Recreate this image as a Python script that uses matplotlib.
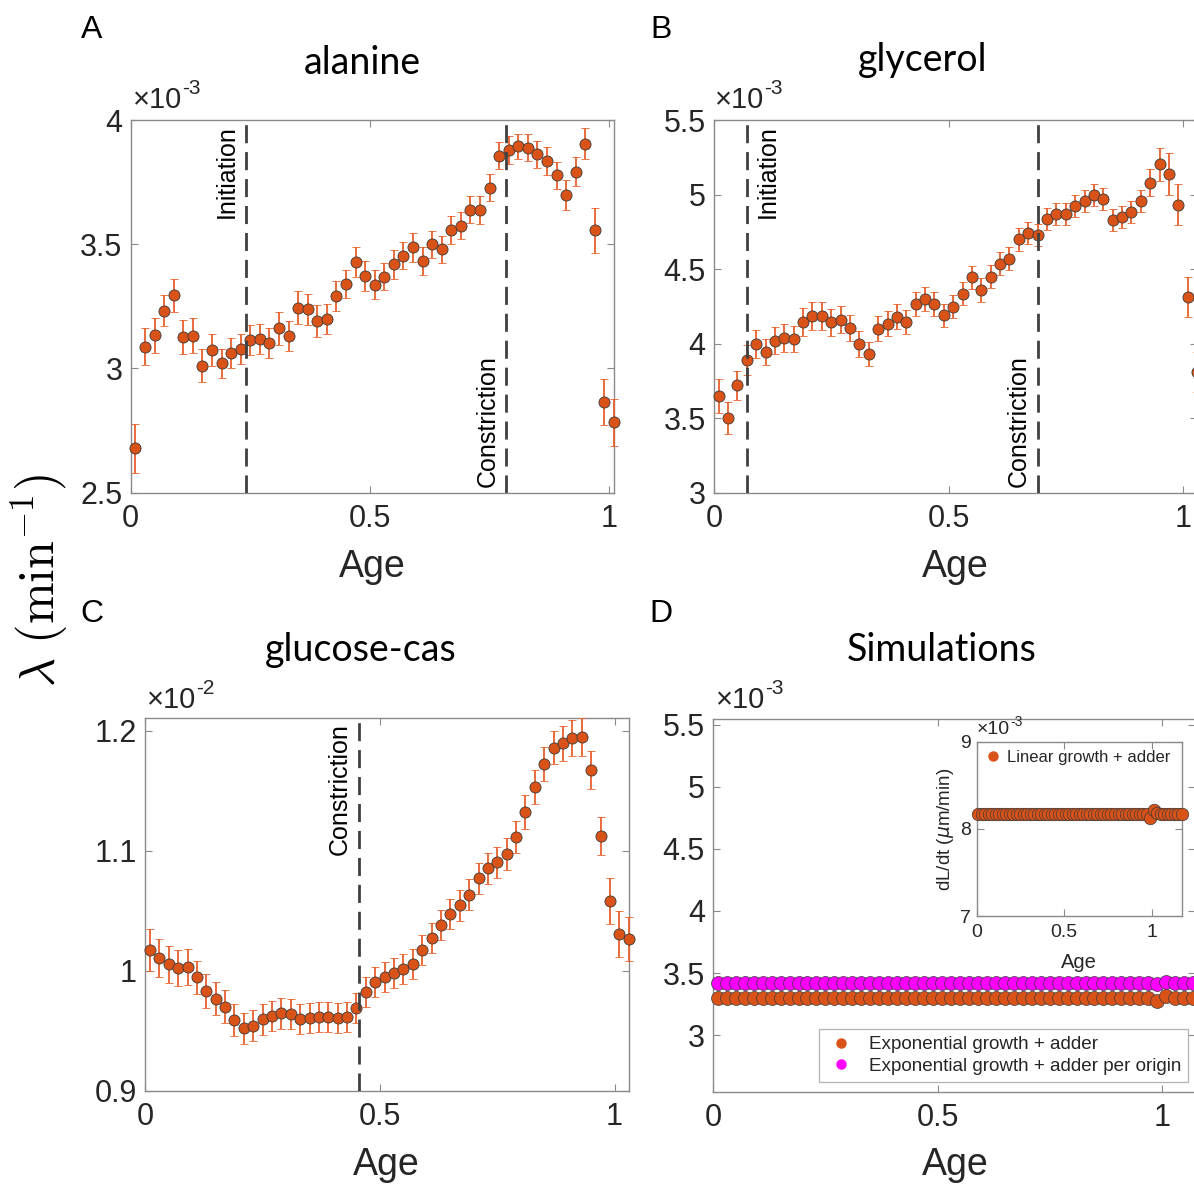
import numpy as np
import matplotlib
matplotlib.use("Agg")
import matplotlib.pyplot as plt
from matplotlib import transforms
from matplotlib.ticker import FuncFormatter, FixedLocator
from matplotlib.lines import Line2D

W, H = 1194, 1186
plt.rcParams['font.family'] = ['Liberation Sans', 'DejaVu Sans']

# ---------------- data ----------------
# growth rate per age bin, alanine (x 1e-3 min^-1)
alanine_age = np.round(np.arange(51) * 0.02 + 0.01, 3)
alanine_rate = [
    2.678, 3.088, 3.133, 3.232, 3.294, 3.127, 3.132, 3.011, 3.074, 3.020,
    3.062, 3.077, 3.114, 3.117, 3.101, 3.161, 3.132, 3.245, 3.238, 3.191,
    3.198, 3.293, 3.340, 3.427, 3.372, 3.337, 3.369, 3.419, 3.454, 3.487,
    3.432, 3.500, 3.479, 3.557, 3.575, 3.639, 3.638, 3.728, 3.856, 3.879,
    3.895, 3.889, 3.862, 3.835, 3.777, 3.698, 3.792, 3.905, 3.556, 2.865,
    2.783]
alanine_err = [
    0.100, 0.074, 0.072, 0.063, 0.067, 0.070, 0.070, 0.067, 0.063, 0.060,
    0.060, 0.060, 0.060, 0.060, 0.060, 0.065, 0.060, 0.065, 0.063, 0.063,
    0.060, 0.060, 0.055, 0.060, 0.060, 0.058, 0.055, 0.058, 0.055, 0.060,
    0.055, 0.055, 0.055, 0.055, 0.055, 0.055, 0.055, 0.055, 0.055, 0.055,
    0.050, 0.055, 0.055, 0.055, 0.055, 0.060, 0.058, 0.063, 0.090, 0.094,
    0.095]

# glycerol (x 1e-3 min^-1)
glycerol_age = np.round(np.arange(52) * 0.02 + 0.01, 3)
glycerol_rate = [
    3.647, 3.502, 3.721, 3.888, 4.000, 3.944, 4.020, 4.038, 4.031, 4.143,
    4.183, 4.183, 4.143, 4.161, 4.105, 3.998, 3.931, 4.100, 4.134, 4.181,
    4.143, 4.268, 4.301, 4.266, 4.190, 4.248, 4.335, 4.444, 4.359, 4.449,
    4.536, 4.569, 4.699, 4.741, 4.728, 4.835, 4.871, 4.871, 4.920, 4.958,
    4.998, 4.969, 4.830, 4.848, 4.886, 4.958, 5.080, 5.203, 5.138, 4.931,
    4.310, 3.808]
glycerol_err = [
    0.114, 0.105, 0.098, 0.100, 0.094, 0.090, 0.090, 0.094, 0.090, 0.094,
    0.094, 0.094, 0.090, 0.090, 0.085, 0.085, 0.083, 0.083, 0.083, 0.083,
    0.080, 0.080, 0.080, 0.080, 0.078, 0.078, 0.078, 0.076, 0.078, 0.076,
    0.076, 0.076, 0.076, 0.076, 0.076, 0.076, 0.074, 0.074, 0.074, 0.074,
    0.074, 0.074, 0.074, 0.074, 0.074, 0.074, 0.090, 0.110, 0.138, 0.138,
    0.134, 0.134]

# glucose-cas (x 1e-2 min^-1)
glucose_age = np.round(np.arange(52) * 0.02 + 0.01, 3)
glucose_rate = [
    1.0175, 1.0106, 1.0056, 1.0022, 1.0036, 0.9947, 0.9833, 0.9769, 0.9703, 0.9592,
    0.9522, 0.9544, 0.9597, 0.9625, 0.9647, 0.9642, 0.9600, 0.9606, 0.9614, 0.9614,
    0.9606, 0.9614, 0.9689, 0.9825, 0.9911, 0.9953, 0.9981, 1.0014, 1.0058, 1.0172,
    1.0278, 1.0383, 1.0475, 1.0547, 1.0636, 1.0772, 1.0856, 1.0906, 1.0975, 1.1114,
    1.1322, 1.1531, 1.1725, 1.1861, 1.1897, 1.1944, 1.1947, 1.1675, 1.1125, 1.0583,
    1.0306, 1.0267]
glucose_err = [
    0.0172, 0.0160, 0.0155, 0.0150, 0.0150, 0.0140, 0.0140, 0.0140, 0.0135, 0.0130,
    0.0128, 0.0128, 0.0128, 0.0128, 0.0128, 0.0125, 0.0125, 0.0125, 0.0125, 0.0125,
    0.0125, 0.0125, 0.0125, 0.0125, 0.0125, 0.0125, 0.0125, 0.0125, 0.0125, 0.0125,
    0.0125, 0.0125, 0.0128, 0.0130, 0.0130, 0.0130, 0.0130, 0.0130, 0.0130, 0.0135,
    0.0140, 0.0140, 0.0140, 0.0140, 0.0145, 0.0150, 0.0160, 0.0160, 0.0160, 0.0190,
    0.0190, 0.0180]

# cell-cycle events (age)
alanine_events = {'Initiation': 0.24, 'Constriction': 0.785}
glycerol_events = {'Initiation': 0.07, 'Constriction': 0.69}
glucose_events = {'Constriction': 0.455}

# simulations (x 1e-3)
sim_age = np.round(np.arange(54) * 0.02 + 0.01, 3)
sim_exp_adder = [3.299] * 49 + [3.272, 3.315] + [3.299] * 3
sim_exp_origin = [3.420] * 49 + [3.409, 3.431] + [3.420] * 3
lin_age = np.round(np.arange(59) * 0.02 + 0.01, 3)
lin_dLdt = [8.165] * 49 + [8.130, 8.222, 8.180] + [8.165] * 7

# ---------------- style ----------------
ORANGE = '#D95319'
EBAR = '#E8602C'
MAGENTA = '#FF00FF'
SPINE = '#8a8a8a'
TXT = '#262626'
DASH = '#404040'

fig = plt.figure(figsize=(W / 100, H / 100), dpi=100)


def add_axes_px(left, top, right, bottom):
    return fig.add_axes([left / W, 1 - bottom / H, (right - left) / W, (bottom - top) / H])


def style_axes(ax, scale, xticks, yticks, labelsize=22, xpad=8, ypad=6):
    for s in ax.spines.values():
        s.set_color(SPINE)
        s.set_linewidth(1.0)
    ax.tick_params(direction='in', length=5, width=0.8, color=SPINE, top=True, right=True,
                   labelsize=labelsize, labelcolor=TXT)
    ax.tick_params(axis='x', pad=xpad)
    ax.tick_params(axis='y', pad=ypad)
    ax.xaxis.set_major_locator(FixedLocator(xticks))
    ax.yaxis.set_major_locator(FixedLocator([v * scale for v in yticks]))
    ax.xaxis.set_major_formatter(FuncFormatter(lambda v, p: '%g' % round(v, 6)))
    ax.yaxis.set_major_formatter(FuncFormatter(lambda v, p: '%g' % round(v / scale, 6)))


def err_plot(ax, x, y, e, scale):
    eb = ax.errorbar(x, np.array(y) * scale, yerr=np.array(e) * scale, fmt='o', ms=8.0,
                     mfc=ORANGE, mec='#3a3a3a', mew=0.6, ecolor=EBAR, elinewidth=1.3,
                     capsize=3.2, capthick=1.3, zorder=3)
    for a in eb.get_children():
        a.set_clip_on(False)


def event_line(ax, x, name, side, vpos):
    ax.axvline(x, color=DASH, lw=2.0, ls=(0, (6.5, 3.2)), zorder=4)
    dx = -7 if side == 'left' else 9
    dy = -5 if vpos == 'top' else 6
    yv = 1.0 if vpos == 'top' else 0.0
    tr = transforms.offset_copy(ax.get_xaxis_transform(), fig=fig, x=dx, y=dy, units='dots')
    ax.text(x, yv, name, transform=tr, rotation=90, fontsize=18, color='black',
            ha='right' if side == 'left' else 'left',
            va='top' if vpos == 'top' else 'bottom')


def multiplier(xpx, ypx, exp, size=21, supsize=15):
    t1 = fig.text(xpx / W, 1 - ypx / H, '\u00d710', fontsize=size, color=TXT, ha='left',
                  va='center')
    fig.text((xpx + size * 2.35) / W, 1 - (ypx - size * 0.55) / H, exp,
             fontsize=supsize, color=TXT, ha='left', va='center')
    return t1


# ---------------- panel A ----------------
axA = add_axes_px(130.7, 120, 614, 492.7)
err_plot(axA, alanine_age, alanine_rate, alanine_err, 1e-3)
axA.set_xlim(0, 1.01)
axA.set_ylim(2.5e-3, 4e-3)
style_axes(axA, 1e-3, [0, 0.5, 1], [2.5, 3, 3.5, 4])
event_line(axA, alanine_events['Initiation'], 'Initiation', 'left', 'top')
event_line(axA, alanine_events['Constriction'], 'Constriction', 'left', 'bottom')

# ---------------- panel B ----------------
axB = add_axes_px(714, 120, 1197.1, 492.7)
err_plot(axB, glycerol_age, glycerol_rate, glycerol_err, 1e-3)
axB.set_xlim(0, 1.03)
axB.set_ylim(3e-3, 5.5e-3)
style_axes(axB, 1e-3, [0, 0.5, 1], [3, 3.5, 4, 4.5, 5, 5.5])
event_line(axB, glycerol_events['Initiation'], 'Initiation', 'right', 'top')
event_line(axB, glycerol_events['Constriction'], 'Constriction', 'left', 'bottom')

# ---------------- panel C ----------------
axC = add_axes_px(145.3, 718.3, 628.7, 1091)
err_plot(axC, glucose_age, glucose_rate, glucose_err, 1e-2)
axC.set_xlim(0, 1.03)
axC.set_ylim(0.9e-2, 1.2105e-2)
style_axes(axC, 1e-2, [0, 0.5, 1], [0.9, 1, 1.1, 1.2])
event_line(axC, glucose_events['Constriction'], 'Constriction', 'left', 'top')

# ---------------- panel D ----------------
axD = add_axes_px(713.3, 719, 1194.5, 1091.7)
axD.plot(sim_age, np.array(sim_exp_adder) * 1e-3, 'o', ms=10.0, mfc=ORANGE, mec='#3a3a3a',
         mew=0.5, clip_on=False, zorder=3)
axD.plot(sim_age, np.array(sim_exp_origin) * 1e-3, 'o', ms=10.0, mfc=MAGENTA, mec='#3a3a3a',
         mew=0.5, clip_on=False, zorder=3)
axD.set_xlim(0, 1.073)
axD.set_ylim(2.545e-3, 5.545e-3)
style_axes(axD, 1e-3, [0, 0.5, 1], [3, 3.5, 4, 4.5, 5, 5.5])
handles = [Line2D([], [], ls='none', marker='o', ms=6.5, mfc=ORANGE, mec=ORANGE),
           Line2D([], [], ls='none', marker='o', ms=6.5, mfc=MAGENTA, mec=MAGENTA)]
legD = axD.legend(handles, ['Exponential growth + adder', 'Exponential growth + adder per origin'],
                  loc='lower right', bbox_to_anchor=(1188.3 / W, 1 - 1081.7 / H),
                  bbox_transform=fig.transFigure, fontsize=13.6, frameon=True, fancybox=False,
                  borderpad=0.35, handletextpad=0.7, handlelength=1.6, labelspacing=0.25,
                  borderaxespad=0)
legD.get_frame().set_edgecolor('#a0a0a0')
legD.get_frame().set_linewidth(0.9)
for t in legD.get_texts():
    t.set_color(TXT)

# inset: linear growth
axI = add_axes_px(976.7, 741.7, 1181.7, 916)
axI.plot(lin_age, np.array(lin_dLdt) * 1e-3, 'o', ms=9.0, mfc=ORANGE, mec='#3a3a3a',
         mew=0.5, clip_on=False, zorder=3)
axI.set_xlim(0, 1.171)
axI.set_ylim(7e-3, 9e-3)
style_axes(axI, 1e-3, [0, 0.5, 1], [7, 8, 9], labelsize=14, xpad=6, ypad=4)
axI.set_facecolor('white')
legI = axI.legend([Line2D([], [], ls='none', marker='o', ms=6.5, mfc=ORANGE, mec=ORANGE)],
                  ['Linear growth + adder'], loc='upper left', fontsize=12, frameon=False,
                  handletextpad=0.4, handlelength=0.9, borderaxespad=0.2, borderpad=0.3)
for t in legI.get_texts():
    t.set_color(TXT)
fig.text(946 / W, 1 - 829 / H, 'dL/dt ($\\mu$m/min)', rotation=90, fontsize=13.5, color=TXT,
         ha='center', va='center')
fig.text(1079 / W, 1 - 962 / H, 'Age', fontsize=14.5, color=TXT, ha='center', va='center')

# ---------------- shared text ----------------
multiplier(133, 100, '-3')
multiplier(715, 100, '-3')
multiplier(147, 700, '-2')
multiplier(716, 700, '-3')
multiplier(977, 730, '-3', size=14, supsize=10)

for xp, yp, s in [(372, 567, 'Age'), (955, 567, 'Age'), (386, 1165, 'Age'), (955, 1165, 'Age')]:
    fig.text(xp / W, 1 - yp / H, s, fontsize=27, color=TXT, ha='center', va='center')

for xp, yp, s in [(362, 63, 'alanine'), (923, 60, 'glycerol'),
                  (361, 650, 'glucose-cas'), (942, 650, 'Simulations')]:
    fig.text(xp / W, 1 - yp / H, s, fontsize=27, color='black', ha='center', va='center',
             family=['Lato', 'DejaVu Sans'])

for xp, yp, s in [(92, 30, 'A'), (661, 30, 'B'), (92, 614, 'C'), (661, 614, 'D')]:
    fig.text(xp / W, 1 - yp / H, s, fontsize=23, color='black', ha='center', va='center')

fig.text(40 / W, 1 - 580 / H, r'$\lambda\ (\mathrm{min}^{-1})$', rotation=90, fontsize=36,
         color='black', ha='center', va='center', math_fontfamily='cm')

fig.savefig('out.png', dpi=100)
